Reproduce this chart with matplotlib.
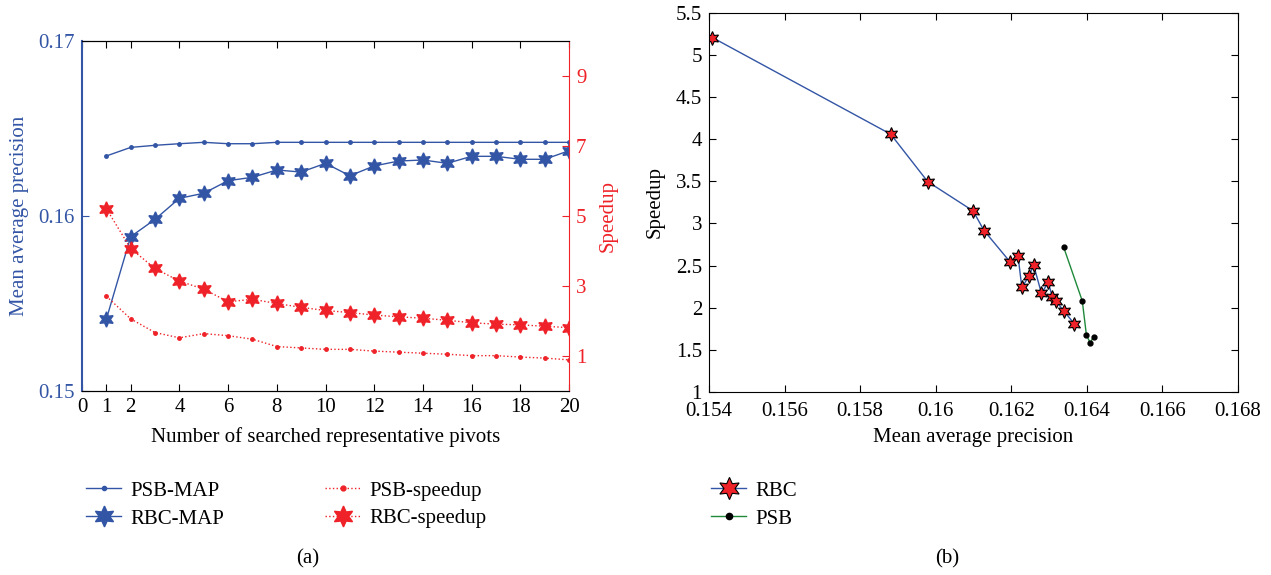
import matplotlib.pyplot as plt
from matplotlib.lines import Line2D

plt.rcParams['font.family'] = ['Liberation Serif', 'DejaVu Serif']
plt.rcParams['font.size'] = 15

# colours
blue = '#3355a5'
red = '#ee2228'
green = '#1f8a3b'

# (a) values per number of searched pivots
pivots = list(range(1, 21))
psb_map = [0.16343, 0.16392, 0.16404, 0.16413, 0.16421, 0.16413, 0.16413,
           0.16421, 0.16421, 0.16421, 0.16421, 0.16421, 0.16421, 0.16421,
           0.16421, 0.16421, 0.16421, 0.16421, 0.16421, 0.16421]
rbc_map = [0.15410, 0.15882, 0.15981, 0.16101, 0.16130, 0.16202, 0.16221,
           0.16263, 0.16251, 0.16301, 0.16230, 0.16286, 0.16314, 0.16320,
           0.16301, 0.16341, 0.16341, 0.16324, 0.16324, 0.16373]
psb_speedup = [2.71, 2.06, 1.67, 1.52, 1.64, 1.58, 1.48, 1.27, 1.23, 1.19,
               1.19, 1.14, 1.11, 1.08, 1.05, 1.01, 1.01, 0.97, 0.94, 0.89]
rbc_speedup = [5.21, 4.07, 3.50, 3.14, 2.91, 2.55, 2.62, 2.50, 2.39, 2.30,
               2.24, 2.17, 2.12, 2.08, 2.02, 1.95, 1.91, 1.89, 1.85, 1.81]
xticks_a = [0, 1, 2, 4, 6, 8, 10, 12, 14, 16, 18, 20]

# (b) speedup vs MAP
rbc_b_map = [0.15409, 0.15881, 0.15979, 0.16099, 0.16128, 0.16198, 0.16218,
             0.16228, 0.16248, 0.16259, 0.16280, 0.16298, 0.16309, 0.16318,
             0.16339, 0.16367]
rbc_b_speedup = [5.205, 4.058, 3.495, 3.148, 2.915, 2.537, 2.612, 2.241,
                 2.379, 2.509, 2.170, 2.300, 2.123, 2.080, 1.962, 1.808]
psb_b_map = [0.16339, 0.16388, 0.16399, 0.16409, 0.16418]
psb_b_speedup = [2.714, 2.080, 1.674, 1.583, 1.658]

hexagram = (6, 1, 0)

fig = plt.figure(figsize=(12.71, 5.75), dpi=100)

# ---- (a) ----
ax1 = fig.add_axes([0.0645, 0.32, 0.3832, 0.6087])
ax2 = ax1.twinx()

ax1.plot(pivots, psb_map, '-', color=blue, lw=1, marker='o', ms=2.5)
ax1.plot(pivots, rbc_map, '-', color=blue, lw=1, marker=hexagram, ms=11)
ax2.plot(pivots, psb_speedup, ':', color=red, lw=1, marker='o', ms=2.5)
ax2.plot(pivots, rbc_speedup, ':', color=red, lw=1, marker=hexagram, ms=11)

ax1.set_xlim(0, 20)
ax1.set_ylim(0.15, 0.17)
ax1.set_xticks(xticks_a)
ax1.set_yticks([0.15, 0.16, 0.17])
ax1.set_yticklabels(['0.15', '0.16', '0.17'])
ax2.set_ylim(0, 10)
ax2.set_yticks([1, 3, 5, 7, 9])

ax1.tick_params(axis='x', direction='in', top=True, length=5, pad=5)
ax1.tick_params(axis='y', direction='in', colors=blue, length=5, pad=5)
ax2.tick_params(axis='y', direction='in', colors=red, length=5, pad=5)
ax1.spines['left'].set_color(blue)
ax1.spines['left'].set_linewidth(1.5)
ax2.spines['left'].set_visible(False)
ax2.spines['right'].set_color(red)
ax1.spines['right'].set_visible(False)

ax1.set_xlabel('Number of searched representative pivots', labelpad=7)
ax1.set_ylabel('Mean average precision', color=blue, labelpad=7)
ax2.set_ylabel('Speedup', color=red, labelpad=9)

# ---- (b) ----
ax3 = fig.add_axes([0.5578, 0.3183, 0.4162, 0.6597])
ax3.plot(rbc_b_map, rbc_b_speedup, '-', color=blue, lw=1, marker=hexagram,
         ms=10, mfc=red, mec='black', mew=0.8)
ax3.plot(psb_b_map, psb_b_speedup, '-', color=green, lw=1, marker='o',
         ms=3.5, mfc='black', mec='black')
ax3.set_xlim(0.154, 0.168)
ax3.set_ylim(1, 5.5)
ax3.set_xticks([0.154, 0.156, 0.158, 0.16, 0.162, 0.164, 0.166, 0.168])
ax3.set_xticklabels(['0.154', '0.156', '0.158', '0.16', '0.162', '0.164',
                     '0.166', '0.168'])
ax3.set_yticks([1, 1.5, 2, 2.5, 3, 3.5, 4, 4.5, 5, 5.5])
ax3.set_yticklabels(['1', '1.5', '2', '2.5', '3', '3.5', '4', '4.5', '5', '5.5'])
ax3.tick_params(direction='in', top=True, right=True, length=5, pad=5)
ax3.tick_params(axis='x', pad=7)
ax3.set_xlabel('Mean average precision', labelpad=5)
ax3.set_ylabel('Speedup', labelpad=8)

# ---- legends ----
col1 = [Line2D([], [], color=blue, lw=1, marker='o', ms=3),
        Line2D([], [], color=blue, lw=1, marker=hexagram, ms=15)]
col2 = [Line2D([], [], color=red, lw=1, ls=':', marker='o', ms=3.5),
        Line2D([], [], color=red, lw=1, ls=':', marker=hexagram, ms=15)]
col3 = [Line2D([], [], color=blue, lw=1, marker=hexagram, ms=16,
               mfc=red, mec='black', mew=0.8),
        Line2D([], [], color=green, lw=1, marker='o', ms=4.5,
               mfc='black', mec='black')]

kw = dict(frameon=False, handlelength=1.7, handletextpad=0.45,
          labelspacing=0.4, borderpad=0, borderaxespad=0, loc='upper left')
fig.legend(col1, ['PSB-MAP', 'RBC-MAP'], bbox_to_anchor=(86 / 1271, 1 - 481 / 575), **kw)
fig.legend(col2, ['PSB-speedup', 'RBC-speedup'], bbox_to_anchor=(325 / 1271, 1 - 481 / 575), **kw)
fig.legend(col3, ['RBC', 'PSB'], bbox_to_anchor=(711 / 1271, 1 - 481 / 575), **kw)

fig.text(308 / 1271, 1 - 559 / 575, '(a)', ha='center', va='center')
fig.text(947 / 1271, 1 - 559 / 575, '(b)', ha='center', va='center')

fig.savefig('out.png', dpi=100)
